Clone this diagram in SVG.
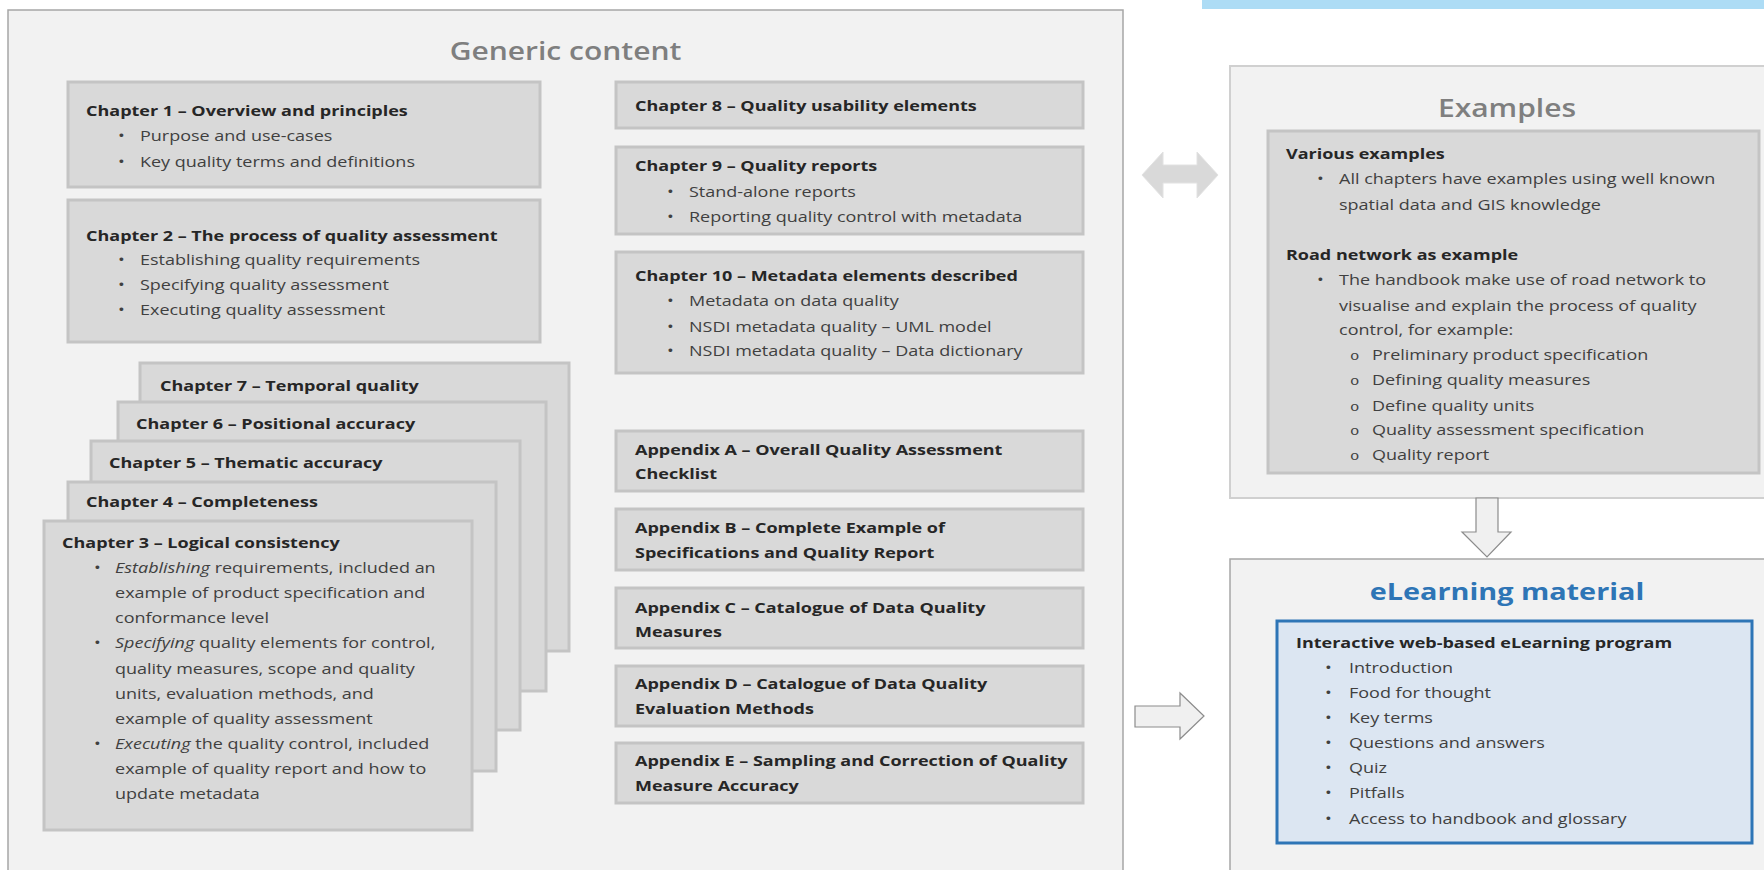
<svg xmlns="http://www.w3.org/2000/svg" width="1764" height="870" viewBox="0 0 1764 870">
<style>
.outer{fill:#f2f2f2;stroke:#a6a6a6;stroke-width:1.5}
.outer2{fill:#f2f2f2;stroke:#d0d0d0;stroke-width:2}
.box{fill:#d9d9d9;stroke:#c4c4c4;stroke-width:3}
.t{font-family:"Open Sans","Liberation Sans",sans-serif;font-size:15px;fill:#404040}
.b{font-weight:bold;fill:#262626}
.i{font-style:italic}
.title{font-family:"Open Sans","Liberation Sans",sans-serif;font-size:25px;font-weight:600;fill:#7f7f7f;text-anchor:middle}
.etitle{font-family:"Open Sans","Liberation Sans",sans-serif;font-size:24px;font-weight:bold;fill:#2e75b6;text-anchor:middle}
.arrow{fill:#f0f0f0;stroke:#8c8c8c;stroke-width:1.2}
.darrow{fill:#d9d9d9;stroke:#e2e2e2;stroke-width:1}
.o{font-family:"Liberation Mono",monospace;font-size:13px}
</style>
<rect width="1764" height="870" fill="#ffffff"/>
<rect x="1202" y="0" width="562" height="9" fill="#addcf5"/>

<g id="generic">
<rect class="outer" x="8" y="10" width="1115" height="880"/>
<text class="title" transform="translate(565.5,60) scale(1.2,1)">Generic content</text>
</g>

<g id="ch1">
<rect class="box" x="68" y="82" width="472" height="105"/>
<text class="t" transform="translate(86,116) scale(1.2,1)"><tspan class="b" x="0" y="0">Chapter 1 – Overview and principles</tspan><tspan x="26.7" y="25">•</tspan><tspan x="45" y="25">Purpose and use-cases</tspan><tspan x="26.7" y="51">•</tspan><tspan x="45" y="51">Key quality terms and definitions</tspan></text>
</g>

<g id="ch2">
<rect class="box" x="68" y="200" width="472" height="142"/>
<text class="t" transform="translate(86,241) scale(1.2,1)"><tspan class="b" x="0" y="0">Chapter 2 – The process of quality assessment</tspan><tspan x="26.7" y="24">•</tspan><tspan x="45" y="24">Establishing quality requirements</tspan><tspan x="26.7" y="49">•</tspan><tspan x="45" y="49">Specifying quality assessment</tspan><tspan x="26.7" y="74">•</tspan><tspan x="45" y="74">Executing quality assessment</tspan></text>
</g>

<g id="ch7">
<rect class="box" x="140" y="363" width="429" height="288"/>
<text class="t" transform="translate(160,391) scale(1.2,1)"><tspan class="b" x="0" y="0">Chapter 7 – Temporal quality</tspan></text>
</g>
<g id="ch6">
<rect class="box" x="118" y="402" width="428" height="289"/>
<text class="t" transform="translate(136,429) scale(1.2,1)"><tspan class="b" x="0" y="0">Chapter 6 – Positional accuracy</tspan></text>
</g>
<g id="ch5">
<rect class="box" x="91" y="441" width="429" height="289"/>
<text class="t" transform="translate(109,468) scale(1.2,1)"><tspan class="b" x="0" y="0">Chapter 5 – Thematic accuracy</tspan></text>
</g>
<g id="ch4">
<rect class="box" x="68" y="482" width="428" height="289"/>
<text class="t" transform="translate(86,507) scale(1.2,1)"><tspan class="b" x="0" y="0">Chapter 4 – Completeness</tspan></text>
</g>
<g id="ch3">
<rect class="box" x="44" y="521" width="428" height="309"/>
<text class="t" transform="translate(62,548) scale(1.2,1)"><tspan class="b" x="0" y="0">Chapter 3 – Logical consistency</tspan><tspan x="26.7" y="25">•</tspan><tspan x="44.2" y="25"><tspan class="i">Establishing</tspan> requirements, included an</tspan><tspan x="44.2" y="50">example of product specification and</tspan><tspan x="44.2" y="75">conformance level</tspan><tspan x="26.7" y="100">•</tspan><tspan x="44.2" y="100"><tspan class="i">Specifying</tspan> quality elements for control,</tspan><tspan x="44.2" y="126">quality measures, scope and quality</tspan><tspan x="44.2" y="151">units, evaluation methods, and</tspan><tspan x="44.2" y="176">example of quality assessment</tspan><tspan x="26.7" y="201">•</tspan><tspan x="44.2" y="201"><tspan class="i">Executing</tspan> the quality control, included</tspan><tspan x="44.2" y="226">example of quality report and how to</tspan><tspan x="44.2" y="251">update metadata</tspan></text>
</g>

<g id="ch8">
<rect class="box" x="616" y="82" width="467" height="46"/>
<text class="t" transform="translate(635,111) scale(1.2,1)"><tspan class="b" x="0" y="0">Chapter 8 – Quality usability elements</tspan></text>
</g>
<g id="ch9">
<rect class="box" x="616" y="147" width="467" height="87"/>
<text class="t" transform="translate(635,171) scale(1.2,1)"><tspan class="b" x="0" y="0">Chapter 9 – Quality reports</tspan><tspan x="26.7" y="26">•</tspan><tspan x="45" y="26">Stand-alone reports</tspan><tspan x="26.7" y="51">•</tspan><tspan x="45" y="51">Reporting quality control with metadata</tspan></text>
</g>
<g id="ch10">
<rect class="box" x="616" y="252" width="467" height="121"/>
<text class="t" transform="translate(635,281) scale(1.2,1)"><tspan class="b" x="0" y="0">Chapter 10 – Metadata elements described</tspan><tspan x="26.7" y="25">•</tspan><tspan x="45" y="25">Metadata on data quality</tspan><tspan x="26.7" y="51">•</tspan><tspan x="45" y="51">NSDI metadata quality – UML model</tspan><tspan x="26.7" y="75">•</tspan><tspan x="45" y="75">NSDI metadata quality – Data dictionary</tspan></text>
</g>

<g id="appA">
<rect class="box" x="616" y="431" width="467" height="60"/>
<text class="t" transform="translate(635,455) scale(1.2,1)"><tspan class="b" x="0" y="0">Appendix A – Overall Quality Assessment</tspan><tspan class="b" x="0" y="24">Checklist</tspan></text>
</g>
<g id="appB">
<rect class="box" x="616" y="509" width="467" height="61"/>
<text class="t" transform="translate(635,533) scale(1.2,1)"><tspan class="b" x="0" y="0">Appendix B – Complete Example of</tspan><tspan class="b" x="0" y="25">Specifications and Quality Report</tspan></text>
</g>
<g id="appC">
<rect class="box" x="616" y="588" width="467" height="60"/>
<text class="t" transform="translate(635,613) scale(1.2,1)"><tspan class="b" x="0" y="0">Appendix C – Catalogue of Data Quality</tspan><tspan class="b" x="0" y="24">Measures</tspan></text>
</g>
<g id="appD">
<rect class="box" x="616" y="666" width="467" height="60"/>
<text class="t" transform="translate(635,689) scale(1.2,1)"><tspan class="b" x="0" y="0">Appendix D – Catalogue of Data Quality</tspan><tspan class="b" x="0" y="25">Evaluation Methods</tspan></text>
</g>
<g id="appE">
<rect class="box" x="616" y="743" width="467" height="60"/>
<text class="t" transform="translate(635,766) scale(1.2,1)"><tspan class="b" x="0" y="0">Appendix E – Sampling and Correction of Quality</tspan><tspan class="b" x="0" y="25">Measure Accuracy</tspan></text>
</g>

<g id="examples">
<rect class="outer2" x="1230" y="66" width="560" height="432"/>
<text class="title" transform="translate(1507,117) scale(1.2,1)">Examples</text>
<rect class="box" x="1268" y="131" width="491" height="342"/>
<text class="t" transform="translate(1286,159) scale(1.2,1)"><tspan class="b" x="0" y="0">Various examples</tspan><tspan x="25.8" y="25">•</tspan><tspan x="44.2" y="25">All chapters have examples using well known</tspan><tspan x="44.2" y="51">spatial data and GIS knowledge</tspan><tspan class="b" x="0" y="101">Road network as example</tspan><tspan x="25.8" y="126">•</tspan><tspan x="44.2" y="126">The handbook make use of road network to</tspan><tspan x="44.2" y="152">visualise and explain the process of quality</tspan><tspan x="44.2" y="176">control, for example:</tspan><tspan class="o" x="53.3" y="201">o</tspan><tspan x="71.7" y="201">Preliminary product specification</tspan><tspan class="o" x="53.3" y="226">o</tspan><tspan x="71.7" y="226">Defining quality measures</tspan><tspan class="o" x="53.3" y="252">o</tspan><tspan x="71.7" y="252">Define quality units</tspan><tspan class="o" x="53.3" y="276">o</tspan><tspan x="71.7" y="276">Quality assessment specification</tspan><tspan class="o" x="53.3" y="301">o</tspan><tspan x="71.7" y="301">Quality report</tspan></text>
</g>

<g id="elearning">
<rect class="outer" x="1230" y="559" width="560" height="340"/>
<text class="etitle" transform="translate(1507,600) scale(1.2,1)">eLearning material</text>
<rect x="1277" y="621" width="475" height="222" fill="#dce6f2" stroke="#2e75b6" stroke-width="3"/>
<text class="t" transform="translate(1296,648) scale(1.2,1)"><tspan class="b" x="0" y="0">Interactive web-based eLearning program</tspan><tspan x="24.2" y="25">•</tspan><tspan x="44.2" y="25">Introduction</tspan><tspan x="24.2" y="50">•</tspan><tspan x="44.2" y="50">Food for thought</tspan><tspan x="24.2" y="75">•</tspan><tspan x="44.2" y="75">Key terms</tspan><tspan x="24.2" y="100">•</tspan><tspan x="44.2" y="100">Questions and answers</tspan><tspan x="24.2" y="125">•</tspan><tspan x="44.2" y="125">Quiz</tspan><tspan x="24.2" y="150">•</tspan><tspan x="44.2" y="150">Pitfalls</tspan><tspan x="24.2" y="176">•</tspan><tspan x="44.2" y="176">Access to handbook and glossary</tspan></text>
</g>

<g id="connectors">
<polygon class="darrow" points="1142,175 1163,152 1163,165 1197,165 1197,152 1218,175 1197,198 1197,183 1163,183 1163,198"/>
<polygon class="arrow" points="1135,706 1180,706 1180,693 1204,716 1180,739 1180,727 1135,727"/>
<polygon class="arrow" points="1476,498 1498,498 1498,532 1511,532 1487,557 1462,532 1476,532"/>
</g>
</svg>
